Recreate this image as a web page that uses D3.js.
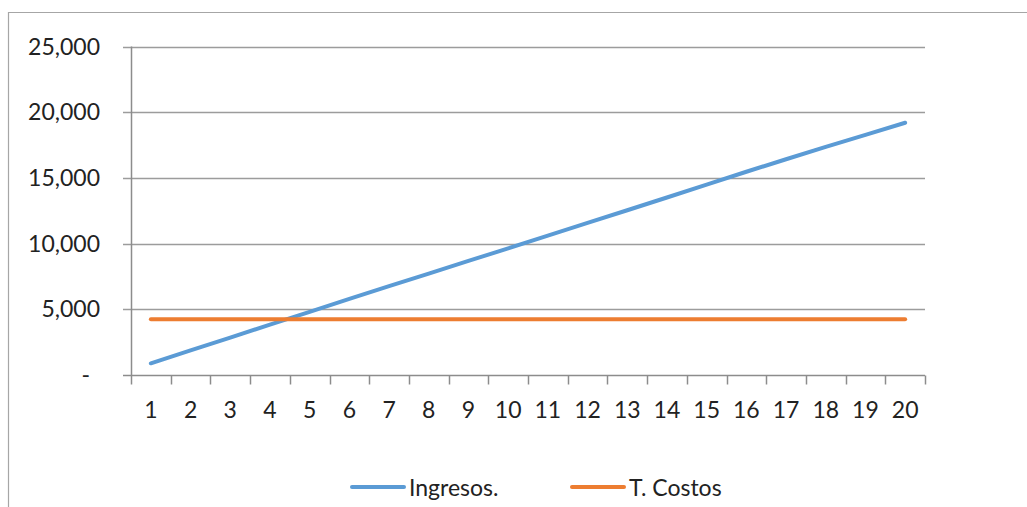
<!DOCTYPE html>
<html>
<head>
<meta charset="utf-8">
<script src="https://cdn.jsdelivr.net/npm/d3@7"></script>
<style>
  html, body { margin: 0; padding: 0; background: #fff; }
  svg { display: block; }
  text { font-family: Lato, "Open Sans", sans-serif; fill: #222; }
</style>
</head>
<body>
<svg id="chart" width="1027" height="507"></svg>
<script>
// Periods on the x axis
const periods = d3.range(1, 21).map(String);
// Revenue per period
const ingresos = [890, 1870, 2850, 3830, 4810, 5790, 6760, 7720, 8680, 9640,
                  10600, 11570, 12540, 13510, 14490, 15470, 16420, 17360, 18280, 19200];
// Total costs per period
const costos = [4240, 4240, 4240, 4240, 4240, 4240, 4240, 4240, 4240, 4240,
                4240, 4240, 4240, 4240, 4240, 4240, 4240, 4240, 4240, 4240];
// Value-axis ticks
const yTicks = [0, 5000, 10000, 15000, 20000, 25000];
const seriesNames = ["Ingresos.", "T. Costos"];
const seriesColors = ["#5B9BD5", "#ED7D31"];

const svg = d3.select("#chart");
const plot = { left: 131, right: 925, top: 46.5, bottom: 375 };
const fontSize = 23;

// Outer chart border (only top and left edges fall inside the frame)
svg.append("path")
  .attr("d", "M8.5,507 V12.5 H1027")
  .attr("fill", "none")
  .attr("stroke", "#a6a6a6")
  .attr("stroke-width", 1.2);

const x = d3.scaleBand().domain(periods).range([plot.left, plot.right]);
const y = d3.scaleLinear().domain([0, 25000]).range([plot.bottom, plot.top]);

// Horizontal gridlines with outside tick stubs
svg.append("g")
  .selectAll("line")
  .data(yTicks.filter(d => d > 0))
  .join("line")
  .attr("x1", plot.left - 8).attr("x2", plot.right)
  .attr("y1", d => Math.round(y(d)) + 0.5).attr("y2", d => Math.round(y(d)) + 0.5)
  .attr("stroke", "#9c9c9c").attr("stroke-width", 1.5);

// Y-axis labels (zero shown as a dash, accounting style)
const fmt = d3.format(",");
svg.append("g")
  .selectAll("text")
  .data(yTicks)
  .join("text")
  .attr("x", d => d === 0 ? 90 : 100)
  .attr("y", d => y(d) + 8)
  .attr("text-anchor", "end")
  .attr("font-size", fontSize)
  .text(d => d === 0 ? "-" : fmt(d));

// Y axis line
svg.append("line")
  .attr("x1", plot.left + 0.5).attr("x2", plot.left + 0.5)
  .attr("y1", plot.top).attr("y2", plot.bottom)
  .attr("stroke", "#8c8c8c").attr("stroke-width", 1.5);

// X axis: line, tick marks between categories, labels at band centers
const xAxis = d3.axisBottom(x).tickSize(0).tickPadding(0);
const gx = svg.append("g")
  .attr("transform", `translate(0,${Math.round(plot.bottom) + 0.5})`)
  .call(xAxis);
gx.select(".domain").remove();
gx.selectAll("text")
  .attr("y", 42)
  .attr("dy", null)
  .attr("font-size", fontSize)
  .attr("font-family", "Lato, 'Open Sans', sans-serif")
  .attr("fill", "#222");

const tickEdges = periods.map(p => x(p)).concat([plot.right]);
gx.append("line")
  .attr("x1", plot.left - 8).attr("x2", plot.right)
  .attr("y1", 0).attr("y2", 0)
  .attr("stroke", "#8c8c8c").attr("stroke-width", 1.5);
gx.selectAll("line.edge")
  .data(tickEdges)
  .join("line")
  .attr("class", "edge")
  .attr("x1", d => Math.round(d) + 0.5).attr("x2", d => Math.round(d) + 0.5)
  .attr("y1", 0).attr("y2", 9)
  .attr("stroke", "#8c8c8c").attr("stroke-width", 1.5);

// Series lines
const line = d3.line()
  .x((d, i) => x(periods[i]) + x.bandwidth() / 2)
  .y(d => y(d));

[ingresos, costos].forEach((vals, k) => {
  svg.append("path")
    .datum(vals)
    .attr("d", line)
    .attr("fill", "none")
    .attr("stroke", seriesColors[k])
    .attr("stroke-width", 4)
    .attr("stroke-linecap", "round")
    .attr("stroke-linejoin", "round");
});

// Legend
const legendX = [352, 572];
const legend = svg.append("g");
seriesNames.forEach((name, k) => {
  legend.append("line")
    .attr("x1", legendX[k]).attr("x2", legendX[k] + 52)
    .attr("y1", 487).attr("y2", 487)
    .attr("stroke", seriesColors[k])
    .attr("stroke-width", 4)
    .attr("stroke-linecap", "round");
  legend.append("text")
    .attr("x", legendX[k] + 57)
    .attr("y", 496)
    .attr("font-size", fontSize)
    .text(name);
});
</script>
</body>
</html>
